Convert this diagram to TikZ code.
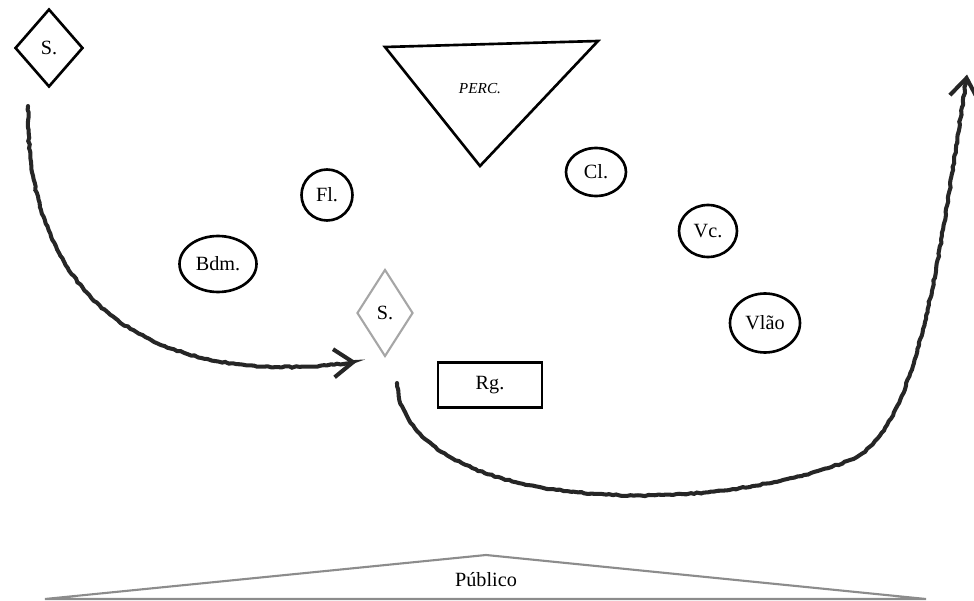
\documentclass[tikz,border=0pt]{standalone}
\usepackage{fontspec}
\setmainfont{Liberation Serif}
\usepackage{tikz}
\usetikzlibrary{shapes.geometric,arrows.meta,decorations.pathmorphing}

\begin{document}
\begin{tikzpicture}[x=0.02cm,y=-0.02cm,
        txt/.style={font=\fontsize{11.5}{13}\selectfont},
        inst/.style={txt, draw, ellipse, line width=1.5pt, inner sep=0pt},
        solo/.style={txt, draw, diamond, inner sep=0pt},
        walk/.style={line width=2.3pt, black!85, line cap=round,
                decorate, decoration={random steps, segment length=2pt, amplitude=0.4pt},
                -{Straight Barb[length=11pt, width=16pt, line width=2.3pt]}}]
        \useasboundingbox (0,0) rectangle (974,601);

	% palco
	\node[solo, line width=1.5pt, minimum width=1.36cm, minimum height=1.56cm] (s1) at (49,48) {S.};
	\draw[line width=1.5pt, line join=miter] (385,47) -- (598,41) -- (480,166) -- cycle;
	\node[font=\fontsize{8.7}{10}\selectfont\itshape] (perc) at (480,89) {PERC.};

	\node[inst, minimum width=1.02cm, minimum height=1.02cm] (fl) at (327,195) {Fl.};
	\node[inst, minimum width=1.54cm, minimum height=1.12cm] (bdm) at (218,264) {Bdm.};
	\node[inst, minimum width=1.2cm, minimum height=0.96cm] (cl) at (596,172) {Cl.};
	\node[inst, minimum width=1.16cm, minimum height=1.04cm] (vc) at (708,231) {Vc.};
	\node[inst, minimum width=1.4cm, minimum height=1.18cm] (vlao) at (765,323) {Vlão};

	\node[solo, draw=black!35, line width=1.2pt, minimum width=1.12cm, minimum height=1.74cm] (s2) at (385,313) {S.};
	\node[txt, draw, line width=1.5pt, minimum width=2.08cm, minimum height=0.9cm] (rg) at (490,385) {Rg.};

	% plateia
	\draw[black!45, line width=1.2pt] (45,599) -- (486,555) -- (926,599) -- cycle;
	\node[txt] (pub) at (486,580) {Público};

	% percursos
	\coordinate (a0) at (28,106);
	\coordinate (a1) at (356,362);
	\coordinate (b0) at (397,383);
	\coordinate (b1) at (850,460);
	\coordinate (b2) at (967,75);
	\draw[walk] (a0) .. controls (25,300) and (150,390) .. (a1);
	\draw[walk] (b0) .. controls (405,510) and (700,520) .. (b1)
	        .. controls (920,432) and (940,250) .. (b2);

\end{tikzpicture}
\end{document}
